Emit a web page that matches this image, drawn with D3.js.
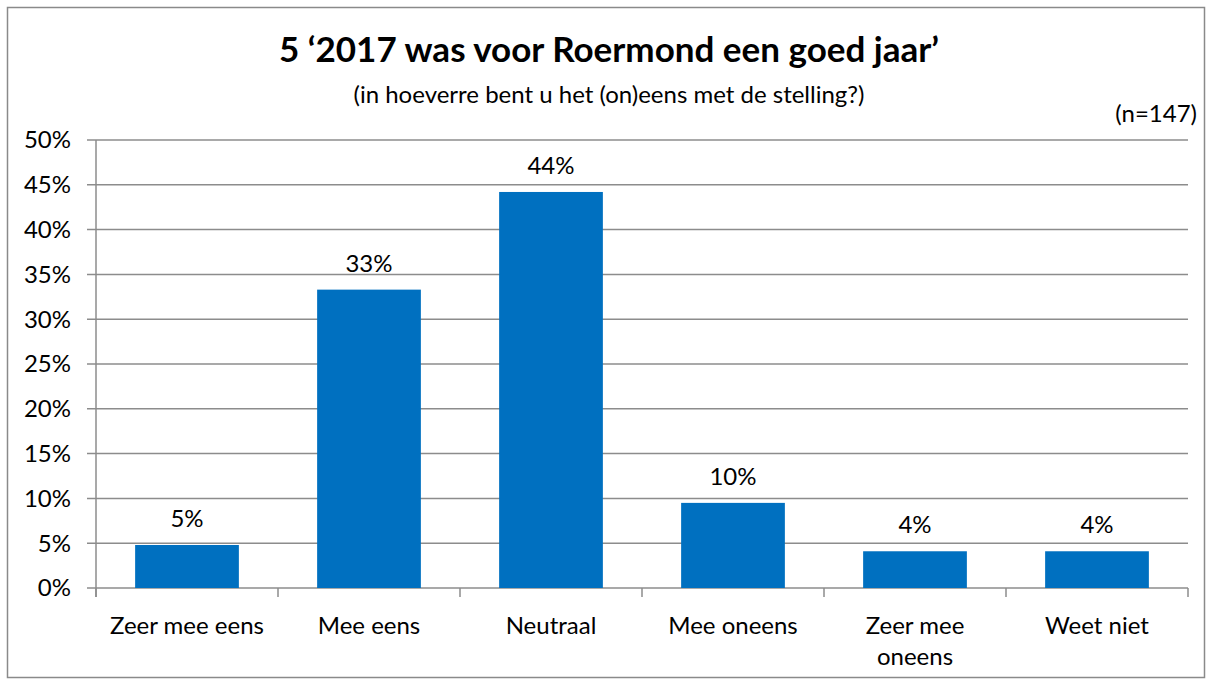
<!DOCTYPE html>
<html>
<head>
<meta charset="utf-8">
<script src="https://cdn.jsdelivr.net/npm/d3@7"></script>
<style>
  body { margin: 0; background: #fff; }
  svg text { font-family: Lato, "Open Sans", sans-serif; fill: #000; }
</style>
</head>
<body>
<div id="chart"></div>
<script>
// data
const categories = ["Zeer mee eens", "Mee eens", "Neutraal", "Mee oneens", "Zeer mee oneens", "Weet niet"];
const values = [4.8, 33.3, 44.2, 9.5, 4.1, 4.1];
const valueLabels = ["5%", "33%", "44%", "10%", "4%", "4%"];
const yTicks = [0, 5, 10, 15, 20, 25, 30, 35, 40, 45, 50];

const width = 1212, height = 684;
const margin = { left: 96, right: 24, top: 140, bottom: 96 };

const svg = d3.select("#chart").append("svg")
    .attr("width", width)
    .attr("height", height);

// outer frame
svg.append("rect")
    .attr("x", 7.5).attr("y", 7.5)
    .attr("width", width - 15).attr("height", height - 14)
    .attr("fill", "none")
    .attr("stroke", "#8a8a8a")
    .attr("stroke-width", 1.5);

const x = d3.scaleBand()
    .domain(categories)
    .range([margin.left, width - margin.right])
    .paddingInner(0.43)
    .paddingOuter(0.215);

const y = d3.scaleLinear()
    .domain([0, 50])
    .range([height - margin.bottom, margin.top]);

// gridlines
svg.append("g")
    .selectAll("line")
    .data(yTicks)
    .enter()
    .append("line")
    .attr("x1", margin.left - 9)
    .attr("x2", width - margin.right)
    .attr("y1", d => y(d))
    .attr("y2", d => y(d))
    .attr("stroke", "#8c8c8c")
    .attr("stroke-width", 1.5);

// y axis line
svg.append("line")
    .attr("x1", margin.left).attr("x2", margin.left)
    .attr("y1", y(50)).attr("y2", y(0) + 9)
    .attr("stroke", "#8c8c8c")
    .attr("stroke-width", 1.5);

// y tick labels
svg.append("g")
    .selectAll("text")
    .data(yTicks)
    .enter()
    .append("text")
    .attr("x", margin.left - 25)
    .attr("y", d => y(d))
    .attr("dy", "0.35em")
    .attr("text-anchor", "end")
    .attr("font-size", 24)
    .text(d => d + "%");

// category tick marks
const step = x.step();
const bounds = d3.range(categories.length + 1).map(i => margin.left + i * step);
svg.append("g")
    .selectAll("line")
    .data(bounds)
    .enter()
    .append("line")
    .attr("x1", d => d).attr("x2", d => d)
    .attr("y1", y(0)).attr("y2", y(0) + 9)
    .attr("stroke", "#8c8c8c")
    .attr("stroke-width", 1.5);

// bars
svg.append("g")
    .selectAll("rect")
    .data(values)
    .enter()
    .append("rect")
    .attr("x", (d, i) => x(categories[i]))
    .attr("y", d => y(d))
    .attr("width", x.bandwidth())
    .attr("height", d => y(0) - y(d))
    .attr("fill", "#0070c0");

// value labels
svg.append("g")
    .selectAll("text")
    .data(values)
    .enter()
    .append("text")
    .attr("x", (d, i) => x(categories[i]) + x.bandwidth() / 2)
    .attr("y", d => y(d) - 18)
    .attr("text-anchor", "middle")
    .attr("font-size", 24)
    .text((d, i) => valueLabels[i]);

// category labels (wrap where needed)
const catLines = { "Zeer mee oneens": ["Zeer mee", "oneens"] };
const catG = svg.append("g")
    .selectAll("text")
    .data(categories)
    .enter()
    .append("text")
    .attr("x", d => x(d) + x.bandwidth() / 2)
    .attr("y", y(0) + 46)
    .attr("text-anchor", "middle")
    .attr("font-size", 24);

catG.each(function (d) {
    const lines = catLines[d] || [d];
    const t = d3.select(this);
    lines.forEach((l, i) => {
        t.append("tspan")
            .attr("x", x(d) + x.bandwidth() / 2)
            .attr("dy", i === 0 ? 0 : 31)
            .text(l);
    });
});

// titles
svg.append("text")
    .attr("x", 609).attr("y", 62)
    .attr("text-anchor", "middle")
    .attr("font-size", 35)
    .attr("font-weight", "bold")
    .text("5 \u20182017 was voor Roermond een goed jaar\u2019");

svg.append("text")
    .attr("x", 609).attr("y", 103)
    .attr("text-anchor", "middle")
    .attr("font-size", 24)
    .text("(in hoeverre bent u het (on)eens met de stelling?)");

svg.append("text")
    .attr("x", 1197).attr("y", 122)
    .attr("text-anchor", "end")
    .attr("font-size", 24)
    .text("(n=147)");
</script>
</body>
</html>
